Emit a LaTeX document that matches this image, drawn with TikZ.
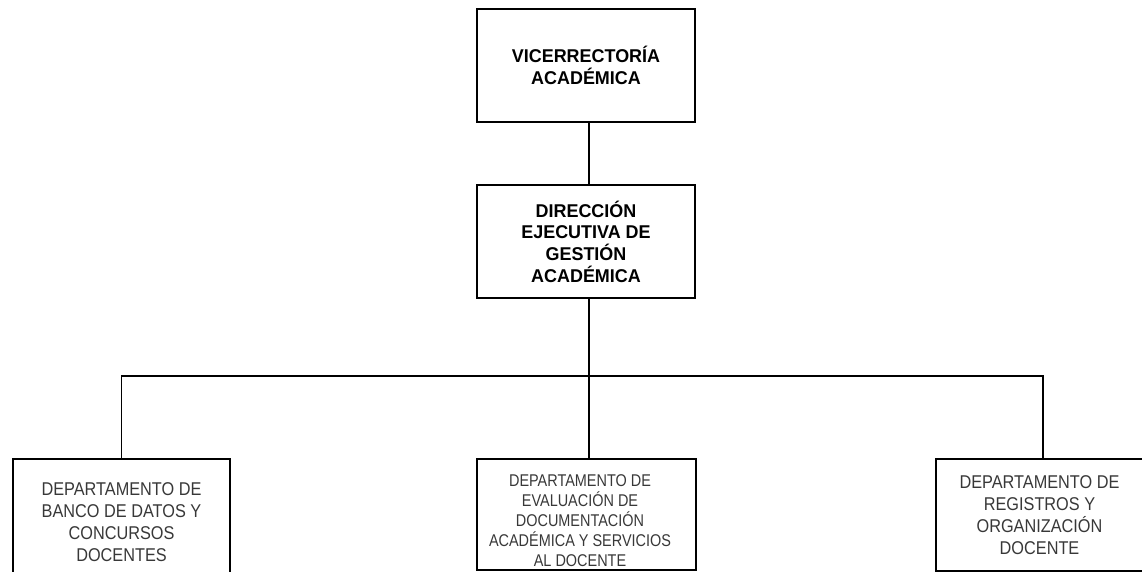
\documentclass[tikz,border=0pt]{standalone}
\usepackage{fontspec}
\newfontfamily\headsans[FakeStretch=0.97]{Liberation Sans}
\newfontfamily\deptsans[FakeStretch=0.88]{Liberation Sans}
\newfontfamily\narrowsans[FakeStretch=0.85]{Liberation Sans}
\begin{document}
\begin{tikzpicture}[x=1pt,y=-1pt,
  orgbox/.style={draw=black,line width=1.5pt,rectangle,inner sep=0pt,align=center},
  headbox/.style={orgbox,minimum width=218pt,minimum height=113pt,
    font=\headsans\bfseries\fontsize{18.5}{21.7}\selectfont,text=black},
  deptbox/.style={orgbox,minimum width=218pt,
    font=\deptsans\fontsize{18.5}{22}\selectfont,text=black!78},
  smalltext/.style={align=center,inner sep=0pt,
    font=\narrowsans\fontsize{17}{20}\selectfont,text=black!78},
  link/.style={draw=black,line width=1.5pt}]
\useasboundingbox (0,0) rectangle (1142,572);
\clip (0,0) rectangle (1142,572);

% upper levels
\node[headbox] (vr) at (586,65.5) {VICERRECTORÍA\\ACADÉMICA};
\node[headbox] (deg) at (586,241.5) {DIRECCIÓN\\EJECUTIVA DE\\GESTIÓN\\ACADÉMICA};

% departments
\node[deptbox,minimum width=217pt,minimum height=126pt] (d1) at (121.5,522)
  {DEPARTAMENTO DE\\BANCO DE DATOS Y\\CONCURSOS\\DOCENTES};
\node[deptbox,minimum width=219pt,minimum height=111pt] (d2) at (586.5,514.5) {};
\node[smalltext] (d2t) at (580,521)
  {DEPARTAMENTO DE\\EVALUACIÓN DE\\DOCUMENTACIÓN\\ACADÉMICA Y SERVICIOS\\AL DOCENTE};
\node[deptbox,minimum width=207pt,minimum height=112pt] (d3) at (1039.5,515)
  {DEPARTAMENTO DE\\REGISTROS Y\\ORGANIZACIÓN\\DOCENTE};

% connectors
\coordinate (bus) at (589,376);
\draw[link] ([xshift=3pt]vr.south) -- ([xshift=3pt]deg.south |- deg.north);
\draw[link] ([xshift=3pt]deg.south) -- (bus);
\draw[link] (d1.north) |- (bus) -| ([xshift=3.5pt]d3.north);
\draw[link] (bus) -- ([xshift=2.5pt]d2.north);
\end{tikzpicture}
\end{document}
